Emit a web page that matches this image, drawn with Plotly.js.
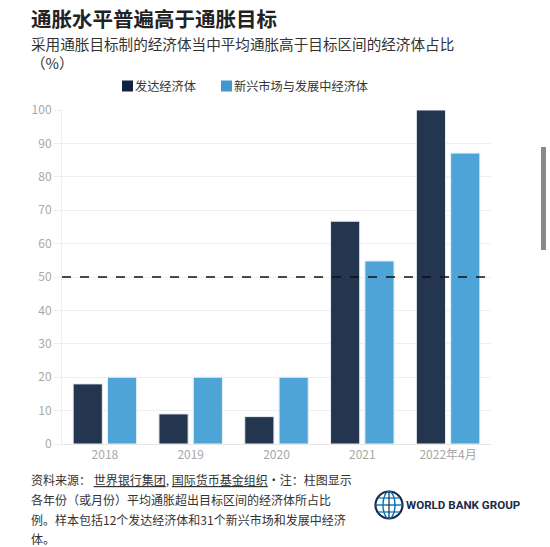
<!DOCTYPE html>
<html>
<head>
<meta charset="utf-8">
<script src="https://cdn.plot.ly/plotly-3.0.1.min.js"></script>
<style>html,body{margin:0;padding:0;background:#fff;}#chart{width:550px;height:547px;}</style>
</head>
<body>
<div id="chart"></div>
<script>
const categories = ["2018", "2019", "2020", "2021", "2022年4月"];
const advanced = [18, 9, 8.2, 66.7, 100];
const emde = [20, 20, 20, 54.8, 87.1];
const seriesNames = ["发达经济体", "新兴市场与发展中经济体"];
const targetLine = 50;
const yTicks = [0, 10, 20, 30, 40, 50, 60, 70, 80, 90, 100];

const DARK = "#24364f";
const LIGHT = "#4fa4d7";
const FONT = "Noto Sans CJK SC, Noto Sans, sans-serif";

// pixel -> paper helpers (plot area: x 62..491, y 110..444)
const L = 62, R = 491, T = 110, B = 444;
const px = x => (x - L) / (R - L);
const py = y => (B - y) / (B - T);

const traces = [
  {type: "bar", name: seriesNames[0], x: categories, y: advanced,
   marker: {color: DARK, line: {color: "#e8edf2", width: 1}}, showlegend: false, hoverinfo: "x+y"},
  {type: "bar", name: seriesNames[1], x: categories, y: emde,
   marker: {color: LIGHT, line: {color: "#e8f2f9", width: 1}}, showlegend: false, hoverinfo: "x+y"}
];

const annotations = [
  {text: "<b>通胀水平普遍高于通胀目标</b>", x: px(30), y: py(18), xanchor: "left", yanchor: "middle",
   font: {size: 20.5, color: "#222", family: FONT}},
  {text: "采用通胀目标制的经济体当中平均通胀高于目标区间的经济体占比<br>（%）", x: px(30), y: py(53), xanchor: "left", yanchor: "middle",
   font: {size: 14.6, color: "#333", family: FONT}},
  {text: seriesNames[0], x: px(134), y: py(86), xanchor: "left", yanchor: "middle",
   font: {size: 12.2, color: "#333", family: FONT}},
  {text: seriesNames[1], x: px(233), y: py(86), xanchor: "left", yanchor: "middle",
   font: {size: 12.2, color: "#333", family: FONT}},
  {text: "资料来源： <span style=\"text-decoration:underline\">世界银行集团</span>, <span style=\"text-decoration:underline\">国际货币基金组织</span>•注：柱图显示",
   x: px(30), y: py(479), xanchor: "left", yanchor: "middle", font: {size: 12, color: "#333", family: FONT}},
  {text: "各年份（或月份）平均通胀超出目标区间的经济体所占比",
   x: px(30), y: py(499), xanchor: "left", yanchor: "middle", font: {size: 12, color: "#333", family: FONT}},
  {text: "例。样本包括12个发达经济体和31个新兴市场和发展中经济",
   x: px(30), y: py(519), xanchor: "left", yanchor: "middle", font: {size: 12, color: "#333", family: FONT}},
  {text: "体。",
   x: px(30), y: py(538), xanchor: "left", yanchor: "middle", font: {size: 12, color: "#333", family: FONT}},
  {text: "<b>WORLD BANK GROUP</b>", x: px(405), y: py(505), xanchor: "left", yanchor: "middle",
   font: {size: 11.6, color: "#1c2b4a", family: "Roboto, Noto Sans, sans-serif"}}
];

const gcx = 389, gcy = 505, gr = 13.5;
const shapes = [
  {type: "line", xref: "paper", yref: "y", x0: 0, x1: 1, y0: targetLine, y1: targetLine,
   line: {color: "#111", width: 1.6, dash: "dash"}},
  // legend swatches
  {type: "rect", xref: "paper", yref: "paper", x0: px(122), x1: px(133), y0: py(80.5), y1: py(91.5),
   fillcolor: "#0f2340", line: {width: 0}},
  {type: "rect", xref: "paper", yref: "paper", x0: px(221), x1: px(232), y0: py(80.5), y1: py(91.5),
   fillcolor: "#3f97cf", line: {width: 0}},
  // globe logo
  {type: "circle", xref: "paper", yref: "paper", x0: px(gcx - gr), x1: px(gcx + gr), y0: py(gcy + gr), y1: py(gcy - gr),
   line: {color: "#1c2b4a", width: 2.2}, fillcolor: "rgba(0,0,0,0)"},
  {type: "circle", xref: "paper", yref: "paper", x0: px(gcx - 6), x1: px(gcx + 6), y0: py(gcy + gr), y1: py(gcy - gr),
   line: {color: "#0071bc", width: 1.4}, fillcolor: "rgba(0,0,0,0)"},
  {type: "line", xref: "paper", yref: "paper", x0: px(gcx - gr), x1: px(gcx + gr), y0: py(gcy), y1: py(gcy),
   line: {color: "#0071bc", width: 1.4}},
  {type: "line", xref: "paper", yref: "paper", x0: px(gcx - 11), x1: px(gcx + 11), y0: py(gcy - 7), y1: py(gcy - 7),
   line: {color: "#0071bc", width: 1.2}},
  {type: "line", xref: "paper", yref: "paper", x0: px(gcx - 11), x1: px(gcx + 11), y0: py(gcy + 7), y1: py(gcy + 7),
   line: {color: "#0071bc", width: 1.2}},
  {type: "line", xref: "paper", yref: "paper", x0: px(gcx), x1: px(gcx), y0: py(gcy - gr), y1: py(gcy + gr),
   line: {color: "#1c2b4a", width: 1.2}},
  // scrollbar artifact
  {type: "rect", xref: "paper", yref: "paper", x0: px(541), x1: px(546), y0: py(250), y1: py(147),
   fillcolor: "#8a8a8a", line: {color: "#8a8a8a", width: 0}}
];

const layout = {
  width: 550, height: 547,
  margin: {l: L, r: 550 - R, t: T, b: 547 - B, pad: 0},
  paper_bgcolor: "#fff", plot_bgcolor: "#fff",
  font: {family: FONT, color: "#aaa", size: 12},
  barmode: "group", bargap: 0.2, bargroupgap: 0.15,
  xaxis: {type: "category", showgrid: false, showline: true, linecolor: "#e6e6e6", linewidth: 1,
          ticks: "", tickfont: {size: 12, color: "#a8a8a8"}, fixedrange: true},
  yaxis: {range: [0, 100], tickvals: yTicks, showgrid: true, gridcolor: "#eeeeee", gridwidth: 1,
          showline: true, linecolor: "#eeeeee", linewidth: 1, zeroline: false,
          ticks: "outside", ticklen: 7, tickcolor: "#eeeeee",
          tickfont: {size: 12, color: "#a8a8a8"}, fixedrange: true},
  annotations: annotations.map(a => Object.assign({xref: "paper", yref: "paper", showarrow: false, align: "left", borderpad: 0}, a)),
  shapes: shapes,
  showlegend: false
};

Plotly.newPlot("chart", traces, layout, {displayModeBar: false, staticPlot: true});
</script>
</body>
</html>
